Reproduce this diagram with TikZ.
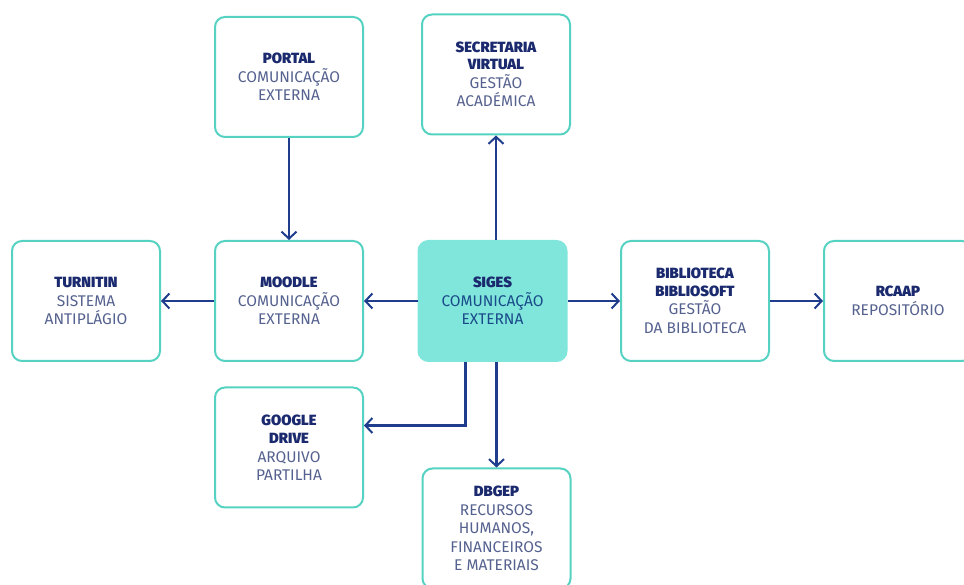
\documentclass[tikz,border=0pt]{standalone}
\usepackage{fontspec}
\setmainfont{Fira Sans}
\IfFontExistsTF{Fira Sans Black}{\newfontfamily\heavyfont{Fira Sans Black}}{\newfontfamily\heavyfont{Fira Sans}[UprightFont=*-Bold]}
\usetikzlibrary{arrows.meta}
\definecolor{tealb}{HTML}{55D2C1}
\definecolor{tealf}{HTML}{80E6DB}
\definecolor{navy}{HTML}{1B2A6E}
\definecolor{txt}{HTML}{55628F}
\definecolor{arrc}{HTML}{1F3D8C}
\newcommand{\hd}[1]{{\color{navy}\heavyfont\fontsize{14.8}{18}\selectfont #1}}
\tikzset{
  box/.style={draw=tealb, line width=2pt, rounded corners=10pt, fill=white,
    minimum width=148pt, minimum height=120pt, align=center, text=txt,
    font=\fontsize{15.5}{18.5}\selectfont, inner sep=2pt},
  hub/.style={box, fill=tealf, draw=tealf, text=arrc!80!teal},
  arr/.style={draw=arrc, line width=2.2pt, -{Straight Barb[length=7pt,width=15pt,line width=2pt]}}
}
\begin{document}
\begin{tikzpicture}[x=1pt,y=1pt]
\useasboundingbox (0,0) rectangle (964,585);
\begin{scope}
\clip (0,0) rectangle (964,585);
\node[box] (portal) at (289,508) {\hd{PORTAL}\\COMUNICAÇÃO\\EXTERNA};
\node[box] (secret) at (496,510.5) {\hd{SECRETARIA}\\[-1pt]\hd{VIRTUAL}\\GESTÃO\\ACADÉMICA};
\node[box] (turn) at (86,284) {\hd{TURNITIN}\\SISTEMA\\ANTIPLÁGIO};
\node[box] (moodle) at (289,284) {\hd{MOODLE}\\COMUNICAÇÃO\\EXTERNA};
\node[hub] (siges) at (492.5,284) {\hd{SIGES}\\COMUNICAÇÃO\\EXTERNA};
\node[box] (biblio) at (695,284) {\hd{BIBLIOTECA}\\[-1pt]\hd{BIBLIOSOFT}\\GESTÃO\\DA BIBLIOTECA};
\node[box] (rcaap) at (898,284) {\hd{RCAAP}\\REPOSITÓRIO};
\node[box] (google) at (289,137.5) {\hd{GOOGLE}\\\hd{DRIVE}\\ARQUIVO\\PARTILHA};
\node[box] (dbgep) at (496.5,56.5) {\hd{DBGEP}\\RECURSOS\\HUMANOS,\\FINANCEIROS\\E MATERIAIS};
\end{scope}
\draw[arr] (portal.south) -- (moodle.north);
\draw[arr] (secret.south |- siges.north) -- (secret.south);
\draw[arr] (siges.west) -- (moodle.east);
\draw[arr] (moodle.west) -- (turn.east);
\draw[arr] (siges.east) -- (biblio.west);
\draw[arr] (biblio.east) -- (rcaap.west);
\draw[arr] ([xshift=-27pt]siges.south) |- ([yshift=22pt]google.east);
\draw[arr] (dbgep.north |- siges.south) -- (dbgep.north);
\end{tikzpicture}
\end{document}
